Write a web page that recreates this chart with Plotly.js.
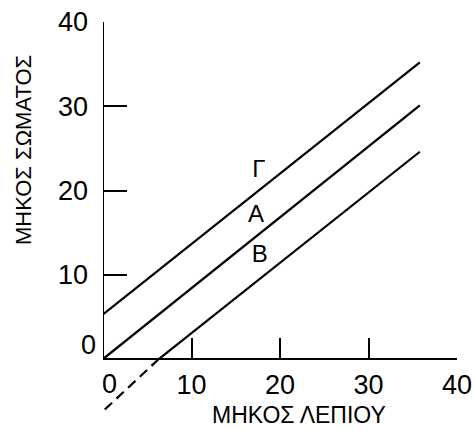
<!DOCTYPE html>
<html>
<head>
<meta charset="utf-8">
<script src="https://cdn.plot.ly/plotly-3.0.1.min.js"></script>
<style>html,body{margin:0;padding:0;background:#fff;}#chart{width:474px;height:430px;}</style>
</head>
<body>
<div id="chart"></div>
<script>
// Line endpoints (x = ΜΗΚΟΣ ΛΕΠΙΟΥ, y = ΜΗΚΟΣ ΣΩΜΑΤΟΣ)
const lineGammaX = [0, 35.8];
const lineGammaY = [5.3, 35.2];
const lineAX = [0, 35.8];
const lineAY = [0, 30.1];
const lineBX = [6.3, 35.8];
const lineBY = [0, 24.6];
const lineBExtX = [0.2, 6.3];
const lineBExtY = [-6.0, 0];

const labelNames = ['Γ', 'A', 'B'];
const labelX = [17.6, 17.3, 17.7];
const labelY = [22.3, 17.0, 12.2];

const tickVals = [10, 20, 30, 40];
const tickText = ['10', '20', '30', '40'];
const xTitle = 'ΜΗΚΟΣ ΛΕΠΙΟΥ';
const yTitle = 'ΜΗΚΟΣ ΣΩΜΑΤΟΣ';
const axisMin = 0, axisMax = 40, yLow = -7;

const font = 'Liberation Sans, Arial, sans-serif';
const solid = {color: '#000', width: 2.2};

const traces = [
  {x: lineGammaX, y: lineGammaY, mode: 'lines', line: solid},
  {x: lineAX, y: lineAY, mode: 'lines', line: solid},
  {x: lineBX, y: lineBY, mode: 'lines', line: solid},
  {x: lineBExtX, y: lineBExtY, mode: 'lines', line: {color: '#000', width: 2.2, dash: '10px,6px'}},
  {x: labelX, y: labelY, mode: 'text', text: labelNames,
   textfont: {family: font, size: 24, color: '#000'}, textposition: 'middle center'}
];

const layout = {
  width: 474, height: 430,
  margin: {l: 103, r: 17, t: 22, b: 12},
  showlegend: false,
  paper_bgcolor: '#fff', plot_bgcolor: '#fff',
  xaxis: {
    range: [axisMin, axisMax], anchor: 'free',
    position: (0 - yLow) / (axisMax - yLow),
    showgrid: false, zeroline: false,
    showline: true, linecolor: '#000', linewidth: 2,
    ticks: 'inside', ticklen: 20, tickwidth: 2, tickcolor: '#000',
    tickvals: tickVals, ticktext: tickText, ticklabelstandoff: 2,
    tickfont: {family: font, size: 27, color: '#000'}
  },
  yaxis: {
    range: [yLow, axisMax],
    showgrid: false, zeroline: false, showline: false,
    ticks: 'inside', ticklen: 24, tickwidth: 2, tickcolor: '#000',
    tickvals: tickVals, ticktext: tickText, ticklabelstandoff: 14,
    tickfont: {family: font, size: 27, color: '#000'}
  },
  shapes: [
    {type: 'line', xref: 'x', yref: 'y', x0: axisMin, x1: axisMin, y0: 0, y1: axisMax,
     line: {color: '#000', width: 2}}
  ],
  annotations: [
    {xref: 'x', yref: 'y', x: axisMin, y: 0, text: '0', showarrow: false,
     xanchor: 'right', yanchor: 'middle', xshift: -5, yshift: 14,
     font: {family: font, size: 27, color: '#000'}},
    {xref: 'x', yref: 'y', x: axisMin, y: 0, text: '0', showarrow: false,
     xanchor: 'center', yanchor: 'top', xshift: 6, yshift: -8,
     font: {family: font, size: 27, color: '#000'}},
    {xref: 'paper', yref: 'paper', x: (299 - 103) / 354, y: (418 - 415) / 396, text: xTitle,
     showarrow: false, xanchor: 'center', yanchor: 'middle',
     font: {family: font, size: 23, color: '#000'}},
    {xref: 'paper', yref: 'paper', x: (23 - 103) / 354, y: (418 - 150) / 396, text: yTitle,
     showarrow: false, xanchor: 'center', yanchor: 'middle', textangle: -90,
     font: {family: font, size: 22, color: '#000'}}
  ]
};

Plotly.newPlot('chart', traces, layout, {staticPlot: true, displayModeBar: false});
</script>
</body>
</html>
